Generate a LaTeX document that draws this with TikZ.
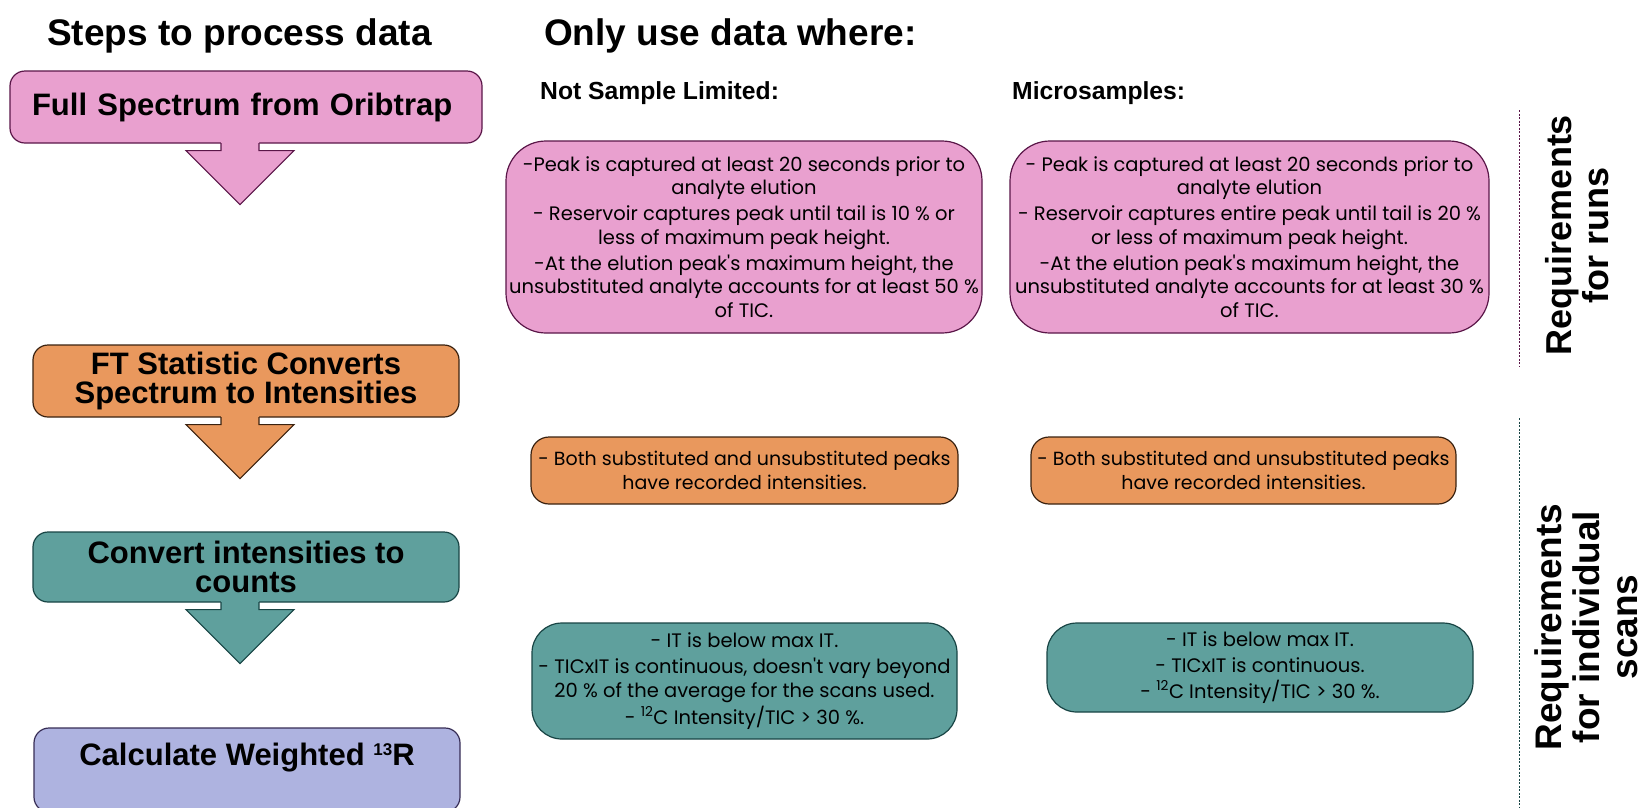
\documentclass[tikz,border=0pt]{standalone}
\usepackage{fontspec}
\setmainfont{Liberation Sans}
\newfontfamily\boxfont{Poppins}
\usetikzlibrary{calc,positioning}
\definecolor{pinkfill}{RGB}{233,160,207}
\definecolor{pinkline}{RGB}{90,22,72}
\definecolor{orangefill}{RGB}{233,152,93}
\definecolor{orangeline}{RGB}{58,34,16}
\definecolor{tealfill}{RGB}{95,160,157}
\definecolor{tealline}{RGB}{24,68,68}
\definecolor{lavfill}{RGB}{174,179,224}
\definecolor{lavline}{RGB}{55,45,85}
\newcommand{\isotope}[1]{\raisebox{10pt}{\fontsize{17}{17}\selectfont #1}}
\tikzset{
  stepbox/.style={rounded corners=15pt, line width=1.2pt, inner sep=0pt, align=center,
    minimum width=426pt, minimum height=72pt, font=\fontsize{31}{29.5}\selectfont\bfseries},
  rulebox/.style={rounded corners=#1, line width=1.2pt, inner sep=0pt, align=center,
    font=\boxfont\fontsize{19.5}{23.5}\selectfont},
  heading/.style={font=\fontsize{37}{40}\selectfont\bfseries, inner sep=0pt, anchor=base west},
  subheading/.style={font=\fontsize{24.7}{28}\selectfont\bfseries, inner sep=0pt, anchor=base west},
  sidelabel/.style={font=\fontsize{36}{37}\selectfont\bfseries, rotate=90, align=center, inner sep=0pt},
  divider/.style={line width=1pt, dash pattern=on 2pt off 1.5pt}
}
\begin{document}
\begin{tikzpicture}[x=1pt, y=-1pt]
  \useasboundingbox (0,0) rectangle (1640,807);
  \clip (0,0) rectangle (1640,807);
  % steps on the left
  \node[heading, anchor=base] (stepstitle) at (239.5,45) {Steps to process data};
  \node[stepbox, fill=pinkfill, draw=pinkline, minimum width=472pt, text width=428pt, align=left] (spec) at (246,107) {Full Spectrum from Oribtrap};
  \node[stepbox, fill=orangefill, draw=orangeline] (ftstat) at (246,381) {FT Statistic Converts\\Spectrum to Intensities};
  \node[stepbox, fill=tealfill, draw=tealline, minimum height=70pt] (counts) at (246,567) {Convert intensities to\\counts};
  \node[stepbox, fill=lavfill, draw=lavline, minimum height=84pt, text height=25pt, text depth=35pt] (ratio) at (247,770) {Calculate Weighted \isotope{13}R};
  \foreach \b/\f/\l in {spec/pinkfill/pinkline, ftstat/orangefill/orangeline, counts/tealfill/tealline}{
    \coordinate (\b-tip) at ($(\b.south)+(-6,61)$);
    \fill[\f] ($(\b.south)+(-25,-4)$) -- ($(\b.south)+(-25,7)$) -- ($(\b.south)+(-60,7)$) -- (\b-tip)
      -- ($(\b.south)+(48,7)$) -- ($(\b.south)+(13,7)$) -- ($(\b.south)+(13,-4)$) -- cycle;
    \draw[\l, line width=1.2pt] ($(\b.south)+(-25,-0.6)$) -- ($(\b.south)+(-25,7)$) -- ($(\b.south)+(-60,7)$) -- (\b-tip)
      -- ($(\b.south)+(48,7)$) -- ($(\b.south)+(13,7)$) -- ($(\b.south)+(13,-0.6)$);
  }
  % conditions
  \node[heading] (usetitle) at (544,45) {Only use data where:};
  \node[subheading] (nsl) at (540,99) {Not Sample Limited:};
  \node[subheading] (micro) at (1012,99) {Microsamples:};
  \node[rulebox=40pt, fill=pinkfill, draw=pinkline, minimum width=476pt, minimum height=192pt] (nslrun) at (744,237)
    {-Peak is captured at least 20 seconds prior to\\analyte elution\\[2.5pt]
     - Reservoir captures peak until tail is 10 \% or\\less of maximum peak height.\\[2.5pt]
     -At the elution peak\textquotesingle s maximum height, the\\unsubstituted analyte accounts for at least 50 \%\\of TIC.};
  \node[rulebox=40pt, fill=pinkfill, draw=pinkline, minimum width=479pt, minimum height=192pt] (microrun) at (1249.5,237)
    {- Peak is captured at least 20 seconds prior to\\analyte elution\\[2.5pt]
     - Reservoir captures entire peak until tail is 20 \%\\or less of maximum peak height.\\[2.5pt]
     -At the elution peak\textquotesingle s maximum height, the\\unsubstituted analyte accounts for at least 30 \%\\of TIC.};
  \node[rulebox=18pt, fill=orangefill, draw=orangeline, minimum width=427pt, minimum height=67pt,
    font=\boxfont\fontsize{19}{23.5}\selectfont] (nslpeaks) at (744.5,470.5)
    {- Both substituted and unsubstituted peaks\\have recorded intensities.};
  \node[rulebox=18pt, fill=orangefill, draw=orangeline, minimum width=425pt, minimum height=67pt,
    font=\boxfont\fontsize{19}{23.5}\selectfont] (micropeaks) at (1243.5,470.5)
    {- Both substituted and unsubstituted peaks\\have recorded intensities.};
  \node[rulebox=30pt, fill=tealfill, draw=tealline, minimum width=425pt, minimum height=116pt] (nslscan) at (744.5,681)
    {- IT is below max IT.\\[2.5pt]
     - TICxIT is continuous, doesn\textquotesingle t vary beyond\\20 \% of the average for the scans used.\\[2.5pt]
     - \textsuperscript{12}C Intensity/TIC > 30 \%.};
  \node[rulebox=30pt, fill=tealfill, draw=tealline, minimum width=426pt, minimum height=89pt] (microscan) at (1260,667.5)
    {- IT is below max IT.\\[2.5pt]- TICxIT is continuous.\\[2.5pt]- \textsuperscript{12}C Intensity/TIC > 30 \%.};
  % dividers and side labels
  \coordinate (runtop) at (1519,110);
  \coordinate (runbot) at (1519,366);
  \coordinate (scantop) at (1519,418);
  \coordinate (scanbot) at (1519,807);
  \draw[divider, pinkline] (runtop) -- (runbot);
  \draw[divider, tealline] (scantop) -- (scanbot);
  \node[sidelabel] (runlabel) at (1577,235) {Requirements\\for runs};
  \node[sidelabel, font=\fontsize{37}{38}\selectfont\bfseries] (scanlabel) at (1586,627) {Requirements\\for individual\\scans};
\end{tikzpicture}
\end{document}
